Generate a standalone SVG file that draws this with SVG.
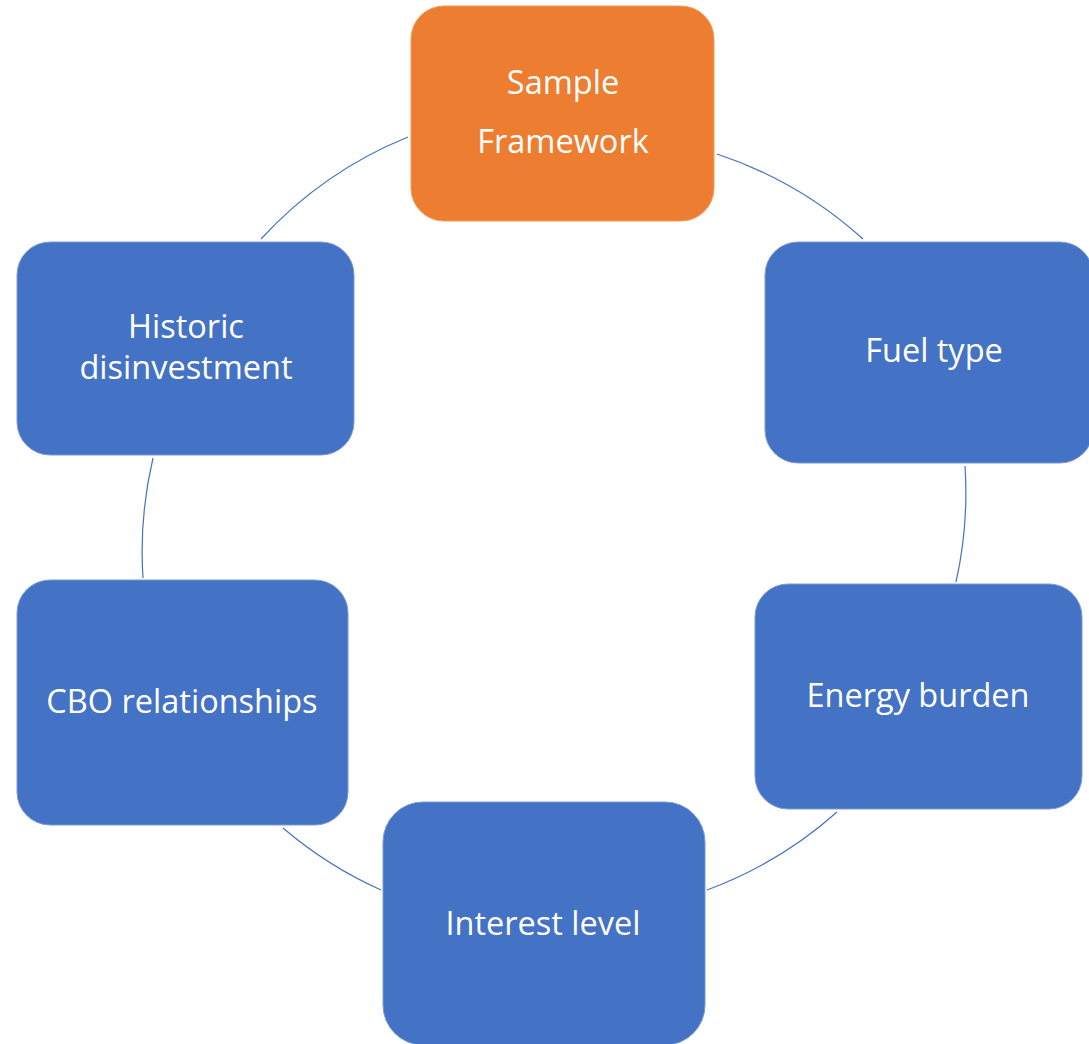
<svg xmlns="http://www.w3.org/2000/svg" width="1089" height="1044" viewBox="0 0 1089 1044">
<style>
.box{fill:#4472C4;stroke:#7b9bd6;stroke-width:1}
.accent{fill:#ED7D31;stroke:#f29a5c;stroke-width:1}
.lbl{font-family:"Open Sans","Liberation Sans",sans-serif;font-size:32.5px;fill:#ffffff;text-anchor:middle}
.conn{fill:none;stroke:#4472C4;stroke-width:1.2}
</style>
<rect width="1089" height="1044" fill="#ffffff"/>
<g id="connectors">
<path class="conn" d="M717,154 A408,408 0 0 1 863,239"/>
<path class="conn" d="M965,466 A408,408 0 0 1 956,582"/>
<path class="conn" d="M837,812 A408,408 0 0 1 707,890"/>
<path class="conn" d="M381,890 A408,408 0 0 1 283,828"/>
<path class="conn" d="M143,578 A408,408 0 0 1 153,458"/>
<path class="conn" d="M261,239 A408,408 0 0 1 408,137"/>
</g>
<g id="sample-framework">
<rect class="accent" x="411" y="6" width="303" height="215" rx="33" ry="33"/>
<text class="lbl" x="563" y="94">Sample</text>
<text class="lbl" x="563" y="153">Framework</text>
</g>
<g id="fuel-type">
<rect class="box" x="765" y="242" width="328" height="221" rx="33" ry="33"/>
<text class="lbl" x="934" y="362">Fuel type</text>
</g>
<g id="energy-burden">
<rect class="box" x="755" y="584" width="327" height="225" rx="33" ry="33"/>
<text class="lbl" x="918" y="707">Energy burden</text>
</g>
<g id="interest-level">
<rect class="box" x="383" y="802" width="322" height="243" rx="40" ry="40"/>
<text class="lbl" x="543" y="935">Interest level</text>
</g>
<g id="cbo-relationships">
<rect class="box" x="17" y="580" width="331" height="245" rx="33" ry="33"/>
<text class="lbl" x="182" y="713">CBO relationships</text>
</g>
<g id="historic-disinvestment">
<rect class="box" x="17" y="242" width="337" height="213" rx="33" ry="33"/>
<text class="lbl" x="186" y="338">Historic</text>
<text class="lbl" x="186" y="379">disinvestment</text>
</g>
</svg>
